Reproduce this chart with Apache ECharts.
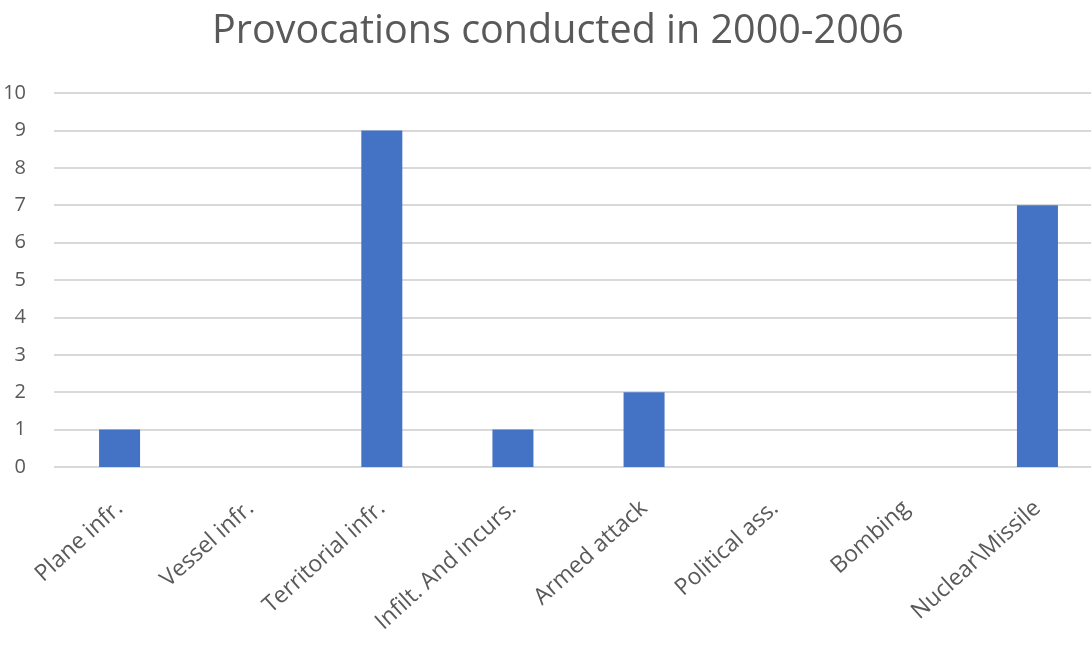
<!DOCTYPE html>
<html style="height: 100%">
<head>
    <meta charset="utf-8">
    <script type="text/javascript" src="https://fastly.jsdelivr.net/npm/echarts@6.0.0/dist/echarts.min.js"></script>
</head>
<body style="height: 100%; margin: 0; background: #fff">
<div id="container" style="width: 1091px; height: 648px"></div>
<script type="text/javascript">
    // 数据
    var categories = ['Plane infr.', 'Vessel infr.', 'Territorial infr.', 'Infilt. And incurs.',
        'Armed attack', 'Political ass.', 'Bombing', 'Nuclear\\Missile'];
    var counts = [1, 0, 9, 1, 2, 0, 0, 7];

    var dom = document.getElementById('container');
    var myChart = echarts.init(dom, null, {renderer: 'canvas'});

    var option = {
        title: {
            text: 'Provocations conducted in 2000-2006',
            left: 207,
            top: 7,
            textStyle: {
                fontFamily: 'Open Sans',
                fontSize: 39.5,
                fontWeight: 'normal',
                color: '#595959'
            }
        },
        grid: {
            left: 54,
            right: -12,
            top: 93,
            bottom: 181,
            outerBoundsMode: 'none'
        },
        xAxis: {
            type: 'category',
            data: categories,
            axisLine: {show: false},
            axisTick: {show: false},
            axisLabel: {
                rotate: 42,
                interval: 0,
                margin: 38,
                fontFamily: 'Open Sans',
                fontSize: 23,
                color: '#595959'
            }
        },
        yAxis: {
            type: 'value',
            min: 0,
            max: 10,
            interval: 1,
            axisLine: {show: false},
            axisTick: {show: false},
            axisLabel: {
                margin: 28,
                fontFamily: 'Open Sans',
                fontSize: 20,
                color: '#595959'
            },
            splitLine: {
                lineStyle: {color: '#d9d9d9', width: 2}
            }
        },
        series: [
            {
                type: 'bar',
                data: counts,
                barWidth: 41,
                itemStyle: {color: '#4472c4'}
            }
        ]
    };

    myChart.setOption(option);
    window.addEventListener('resize', myChart.resize);
</script>
</body>
</html>
